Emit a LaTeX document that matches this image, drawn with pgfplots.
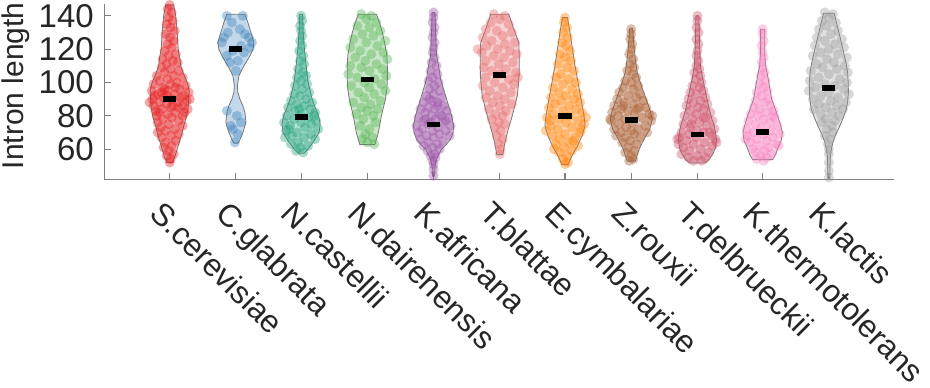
\documentclass[border=0pt]{standalone}
\usepackage{fontspec}
\setmainfont{Liberation Sans}
\usepackage{pgfplots}
\pgfplotsset{compat=1.18}
\definecolor{cA}{RGB}{228,26,28}
\definecolor{cB}{RGB}{55,126,184}
\definecolor{cC}{RGB}{27,158,119}
\definecolor{cD}{RGB}{77,175,74}
\definecolor{cE}{RGB}{152,78,163}
\definecolor{cF}{RGB}{228,100,100}
\definecolor{cG}{RGB}{255,127,0}
\definecolor{cH}{RGB}{166,86,40}
\definecolor{cI}{RGB}{204,75,100}
\definecolor{cJ}{RGB}{247,129,191}
\definecolor{cK}{RGB}{153,153,153}
\definecolor{axgray}{RGB}{128,128,128}
\definecolor{vgray}{RGB}{120,120,120}
\definecolor{txt}{RGB}{38,38,38}
\pgfplotsset{
 vio/.style={draw=vgray, line width=0.8bp, fill opacity=0.3},
 pts/.style={only marks, mark=*, mark size=5bp, mark options={draw=#1, draw opacity=0, fill=#1, fill opacity=0.38}},
}
\begin{document}
\begin{tikzpicture}
\begin{axis}[
 scale only axis, width=787bp, height=175bp,
 xmin=100, xmax=887, ymin=41.6, ymax=147,
 axis x line*=bottom, axis y line*=left,
 axis line style={draw=axgray, line width=1.1bp},
 tick style={draw=axgray, line width=1.1bp},
 tick align=inside, major tick length=7bp,
 xtick={165,231,296,362,428,494,559,625,691,756,822},
 xticklabels={S.cerevisiae,C.glabrata,N.castellii,N.dairenensis,K.africana,T.blattae,E.cymbalariae,Z.rouxii,T.delbrueckii,K.thermotolerans,K.lactis},
 ytick={60,80,100,120,140},
 /pgf/number format/assume math mode=true,
 yticklabel style={font=\fontsize{33}{40}\selectfont, text=txt, inner xsep=10.5bp},
 xticklabel style={xshift=-5bp, font=\fontsize{31.5}{38}\selectfont, text=txt, rotate=-45, anchor=north west, inner sep=2bp},
 xticklabel shift=16bp,
 ylabel={Intron length},
 ylabel style={font=\fontsize{30}{36}\selectfont, text=txt, at={(ticklabel cs:0.535)}, inner sep=2bp},
 ylabel shift=-4bp,
 clip=false,
]
% ---------------- violins ----------------
\addplot[vio, fill=cA] table[x expr=165+\thisrow{w}, y=v] {
w v
4 146.6
6 140
7.5 130
8.5 120
10 115
11 110
14 105
17.5 100
19.5 95
19 90
18.5 85
17 80
14.5 75
12.5 70
10 65
7.5 60
5 55
3 52
-3 52
-5 55
-7.5 60
-10 65
-12.5 70
-14.5 75
-17 80
-18.5 85
-19 90
-19.5 95
-17.5 100
-14 105
-11 110
-10 115
-8.5 120
-7.5 130
-6 140
-4 146.6
4 146.6
};
\addplot[vio, fill=cB] table[x expr=231+\thisrow{w}, y=v] {
w v
9 141
12 136
15 130
18 124
17 120
14 116
8 110
3 104
1.5 98
2 94
4 90
7 86
9 82
10 76
7 70
4 65.7
2 63.6
-2 63.6
-4 65.7
-7 70
-10 76
-9 82
-7 86
-4 90
-2 94
-1.5 98
-3 104
-8 110
-14 116
-17 120
-18 124
-15 130
-12 136
-9 141
9 141
};
\addplot[vio, fill=cC] table[x expr=296+\thisrow{w}, y=v] {
w v
1.5 141
2 130
3.3 120
5 110
7 100
11 90
14 85
17.5 80
19 75
18 70
13 65
7 60
3 57.5
-3 57.5
-7 60
-13 65
-18 70
-19 75
-17.5 80
-14 85
-11 90
-7 100
-5 110
-3.3 120
-2 130
-1.5 141
1.5 141
};
\addplot[vio, fill=cD] table[x expr=362+\thisrow{w}, y=v] {
w v
9 141
12 136
15 130
17.5 123
19.5 116
20 109
20 102
19.5 96
18 90
16 85
14 80
12.5 75
11 70
7.5 62.7
-7.5 62.7
-11 70
-12.5 75
-14 80
-16 85
-18 90
-19.5 96
-20 102
-20 109
-19.5 116
-17.5 123
-15 130
-12 136
-9 141
9 141
};
\addplot[vio, fill=cE] table[x expr=428+\thisrow{w}, y=v] {
w v
1.5 142
2 130
3 116
5 110
7 102
10 96
13 90
15.5 85
18 80
20 74
19.5 70
17 66
13 63
8 60
3 54
1.5 50
1 43.7
-1 43.7
-1.5 50
-3 54
-8 60
-13 63
-17 66
-19.5 70
-20 74
-18 80
-15.5 85
-13 90
-10 96
-7 102
-5 110
-3 116
-2 130
-1.5 142
1.5 142
};
\addplot[vio, fill=cF] table[x expr=494+\thisrow{w}, y=v] {
w v
9 141
14 132
19 124
19.5 114
19.3 104
18.5 98
17.5 92
15 86
12.5 80
9.5 74
6.7 68
4.5 62
3 56.7
-3 56.7
-4.5 62
-6.7 68
-9.5 74
-12.5 80
-15 86
-17.5 92
-18.5 98
-19.3 104
-19.5 114
-19 124
-14 132
-9 141
9 141
};
\addplot[vio, fill=cG] table[x expr=559+\thisrow{w}, y=v] {
w v
2.5 139
5 130
7.5 120
10 110
13 100
16 90
19 80
20 74
17 68
12.5 61.8
7 56
3 50.7
-3 50.7
-7 56
-12.5 61.8
-17 68
-20 74
-19 80
-16 90
-13 100
-10 110
-7.5 120
-5 130
-2.5 139
2.5 139
};
\addplot[vio, fill=cH] table[x expr=625+\thisrow{w}, y=v] {
w v
1.5 132.6
3 120
4.5 112
6 106
9 100
12.5 94
16 88
19 83
21 78
18.5 72
12.5 65.7
8 60
4 52.8
-4 52.8
-8 60
-12.5 65.7
-18.5 72
-21 78
-19 83
-16 88
-12.5 94
-9 100
-6 106
-4.5 112
-3 120
-1.5 132.6
1.5 132.6
};
\addplot[vio, fill=cI] table[x expr=691+\thisrow{w}, y=v] {
w v
1.5 140
2 125
3 110
5 103
7.5 96
9.5 90
11.7 84
14.5 78
16.7 74
18 70
19 65.7
18 61
16 57.7
12 54
8.3 51.7
-8.3 51.7
-12 54
-16 57.7
-18 61
-19 65.7
-18 70
-16.7 74
-14.5 78
-11.7 84
-9.5 90
-7.5 96
-5 103
-3 110
-2 125
-1.5 140
1.5 140
};
\addplot[vio, fill=cJ] table[x expr=756+\thisrow{w}, y=v] {
w v
2 132
2 118
3 110
5 104
7 97
9 90
12 85
15 80
17.5 75
19.7 70
18.5 65
16 61.8
13 57
10 53.7
-10 53.7
-13 57
-16 61.8
-18.5 65
-19.7 70
-17.5 75
-15 80
-12 85
-9 90
-7 97
-5 104
-3 110
-2 118
-2 132
2 132
};
\addplot[vio, fill=cK] table[x expr=822+\thisrow{w}, y=v] {
w v
5.3 141.6
10 130
14 120
17 112
18.7 106
19.3 100
19.5 94
18.8 89
17.5 84
14.5 79
11 74
7 69
4 64
2.5 60
1.5 56
1.2 50
1 42.6
-1 42.6
-1.2 50
-1.5 56
-2.5 60
-4 64
-7 69
-11 74
-14.5 79
-17.5 84
-18.8 89
-19.3 94
-19.5 100
-18.7 106
-17 112
-14 120
-10 130
-5.3 141.6
5.3 141.6
};
% ---------------- points ----------------
\addplot[pts=cA] coordinates {
(165,146.5)(163,144)(167,142)(164,139)(168,137)(162,135)(166,133)(170,131)(161,129)(165,127)(169,125)(163,123)(167,121)(160,119)(171,117)(164,116)(158,114)(168,113)(173,112)(162,111)(157,109)(166,108)(174,107)(160,106)(152,104)(169,104)(178,103)(163,102)(155,101)(172,100)(149,99)(166,99)(181,98)(158,97)(175,96)(147,95)(163,95)(184,94)(153,93)(170,93)(179,92)(159,91)(148,90)(167,90)(182,89)(155,88)(173,88)(162,87)(149,86)(178,86)(166,85)(157,84)(183,84)(151,83)(171,82)(163,81)(152,80)(178,80)(167,79)(158,78)(174,77)(153,76)(164,75)(178,74)(156,73)(170,72)(161,71)(153,70)(174,69)(166,68)(157,67)(171,65)(161,64)(167,62)(159,61)(164,59)(169,57)(162,56)(166,54)(165,52)
(150,92)(176,91)(160,96)(171,97)(145,88)(185,90)(157,94)(168,86)(154,82)(180,82)(162,92)(174,85)
};
\addplot[pts=cB] coordinates {
(222,140)(238,140)(227,136)(235,132)(223,130)(244,127)(247,124)(217,124)(236,122)(228,119)(239,118)(222,116)(245,121)(233,113)(225,112)(231,107)(240,129)(219,127)
(222,83)(232,80)(236,76)(226,74)(228,72)(233,69)(230,64)
};
\addplot[pts=cC] coordinates {
(296,140)(297,137)(295,134)(296,131)(297,128)(295,125)(297,122)(294,119)(298,116)(295,113)(299,111)(293,108)(298,106)(301,104)(292,103)(296,101)(302,99)(290,98)(297,96)(304,94)(289,93)(295,92)(301,90)(286,89)(307,88)(292,87)(299,86)(283,85)(305,84)(290,83)(310,82)(296,81)(282,80)(303,79)(289,78)(311,77)(279,76)(296,76)(306,75)(285,74)(300,73)(313,72)(281,71)(292,70)(306,69)(287,68)(299,67)(280,67)(310,66)(293,64)(286,63)(303,62)(295,61)(291,59)(298,58)(284,72)(309,80)(294,84)
};
\addplot[pts=cD] coordinates {
(356,141)(366,140)(361,138)(371,136)(352,134)(364,133)(375,131)(357,129)(368,128)(348,126)(380,125)(361,124)(372,122)(345,121)(355,119)(378,118)(366,117)(350,115)(382,114)(360,113)(371,111)(345,110)(356,109)(377,108)(364,107)(343,105)(381,104)(352,103)(369,102)(359,100)(376,99)(346,98)(364,97)(380,95)(353,94)(369,93)(359,91)(375,89)(348,88)(365,87)(356,85)(372,84)(362,83)(351,81)(368,80)(358,78)(370,76)(355,74)(364,72)(360,69)(367,67)(357,66)(362,64)(369,63)
};
\addplot[pts=cE] coordinates {
(428,142)(428,139)(427,136)(429,133)(428,130)(427,127)(429,124)(428,121)(427,118)(429,115)(426,112)(431,110)(425,107)(432,105)(427,103)(423,101)(433,100)(429,98)(424,96)(434,95)(428,93)(421,92)(436,91)(427,89)(418,88)(432,88)(438,86)(423,85)(415,84)(429,84)(441,83)(420,82)(434,81)(426,80)(413,79)(443,79)(430,78)(418,77)(437,76)(423,75)(411,74)(445,74)(432,73)(417,72)(427,71)(440,71)(413,70)(434,69)(421,68)(444,68)(428,67)(415,66)(437,65)(423,64)(432,63)(418,62)(427,61)(434,60)(422,59)(429,57)(425,56)(430,55)(427,53)(428,51)(428,48)(428,44)(420,78)(436,80)(425,76)(440,77)(432,86)(424,90)
};
\addplot[pts=cF] coordinates {
(488,141)(499,140)(494,138)(485,136)(503,135)(480,132)(491,131)(506,130)(497,128)(477,127)(486,125)(509,124)(499,123)(481,122)(492,120)(504,119)(476,118)(511,117)(488,116)(498,115)(480,113)(507,112)(493,111)(478,109)(500,108)(486,107)(510,106)(494,105)(480,103)(503,102)(489,100)(508,99)(477,98)(497,97)(484,95)(505,94)(492,92)(480,91)(499,90)(487,88)(506,87)(494,86)(483,84)(500,83)(490,81)(497,80)(486,78)(493,76)(499,75)(489,73)(495,71)(491,68)(497,66)(493,63)(495,60)(494,57)(472,120)(512,103)
};
\addplot[pts=cG] coordinates {
(559,139)(558,136)(561,133)(557,130)(562,127)(556,124)(560,122)(564,119)(554,117)(559,115)(565,113)(552,111)(561,109)(568,107)(555,105)(550,103)(563,102)(570,100)(557,99)(547,97)(566,96)(553,94)(572,93)(560,92)(545,91)(568,90)(555,89)(574,88)(549,87)(563,86)(543,85)(570,84)(557,83)(576,82)(547,81)(564,80)(541,79)(553,78)(572,77)(560,76)(578,75)(545,74)(566,73)(552,72)(540,71)(574,70)(559,69)(547,68)(569,67)(554,66)(563,64)(550,63)(572,62)(558,61)(566,59)(553,58)(561,56)(557,54)(562,52)(559,51)(567,65)(544,77)(580,79)(575,72)(548,60)
};
\addplot[pts=cH] coordinates {
(625,132)(625,129)(624,126)(626,123)(625,120)(623,117)(627,114)(624,111)(628,109)(621,107)(626,105)(630,103)(619,101)(625,100)(632,98)(617,97)(627,96)(613,94)(634,93)(622,92)(630,91)(611,90)(637,89)(618,88)(627,87)(608,86)(640,85)(615,84)(631,84)(622,83)(606,82)(643,81)(628,81)(612,80)(636,79)(619,78)(605,77)(645,77)(626,76)(613,75)(639,74)(620,73)(632,72)(608,72)(625,71)(615,70)(641,70)(628,69)(619,67)(634,67)(610,68)(624,65)(616,64)(630,63)(622,61)(628,59)(619,58)(625,56)(627,54)(623,53)(604,78)(646,80)(633,85)(617,86)
};
\addplot[pts=cI] coordinates {
(691,140)(691,137)(690,133)(692,130)(690,126)(692,123)(691,119)(690,116)(692,113)(690,110)(693,108)(688,106)(694,104)(689,102)(695,100)(686,98)(693,97)(697,95)(684,94)(690,93)(699,91)(682,90)(694,89)(687,88)(701,87)(680,86)(692,85)(697,84)(684,83)(704,82)(690,81)(678,80)(699,79)(686,78)(706,77)(693,76)(677,75)(700,74)(684,73)(708,72)(691,71)(675,70)(697,70)(683,69)(705,68)(673,67)(690,67)(709,66)(680,65)(698,64)(672,63)(687,63)(706,62)(677,61)(694,60)(683,59)(702,58)(675,57)(691,56)(699,55)(682,55)(687,53)(695,53)(710,64)(671,66)(697,79)(685,75)(703,70)
};
\addplot[pts=cJ] coordinates {
(756,132)(756,129)(757,125)(755,122)(756,118)(757,115)(755,112)(756,109)(758,106)(754,104)(759,101)(753,99)(757,97)(761,95)(750,94)(755,92)(762,90)(749,89)(758,88)(764,86)(747,85)(753,84)(767,83)(759,82)(744,81)(751,80)(768,79)(757,78)(742,77)(763,76)(749,75)(771,74)(755,73)(740,72)(764,71)(747,70)(773,69)(757,69)(741,68)(766,67)(750,66)(760,65)(744,64)(770,63)(753,62)(762,61)(746,60)(758,59)(749,58)(765,57)(754,56)(760,55)(750,54)(757,53)(772,62)(739,66)(766,80)
};
\addplot[pts=cK] coordinates {
(818,142)(826,141)(822,139)(815,137)(829,136)(820,134)(812,132)(831,131)(824,129)(810,127)(835,126)(818,125)(828,123)(808,122)(837,121)(822,120)(814,118)(831,117)(806,116)(840,115)(820,114)(827,112)(810,111)(838,110)(816,109)(830,108)(804,107)(841,106)(822,105)(812,103)(833,102)(803,101)(840,100)(818,99)(828,98)(809,97)(837,96)(802,95)(822,94)(842,93)(814,92)(831,91)(806,90)(824,89)(839,88)(812,87)(830,86)(819,85)(807,84)(836,84)(825,82)(814,81)(832,80)(819,78)(828,77)(815,76)(825,74)(820,72)(826,70)(818,68)(823,66)(821,63)(822,60)(822,57)(822,52)(822,47)(822,43)
};
% ---------------- medians ----------------
\addplot[only marks, mark=-, mark size=6.5bp, mark options={line width=5.5bp, draw=black}] coordinates {
(165,90)(231,120)(296,79.4)(362,101.9)(428,74.8)(494,104.5)(559,79.8)(625,77.4)(691,68.7)(756,70.3)(822,96.6)
};
\end{axis}
\end{tikzpicture}
\end{document}
